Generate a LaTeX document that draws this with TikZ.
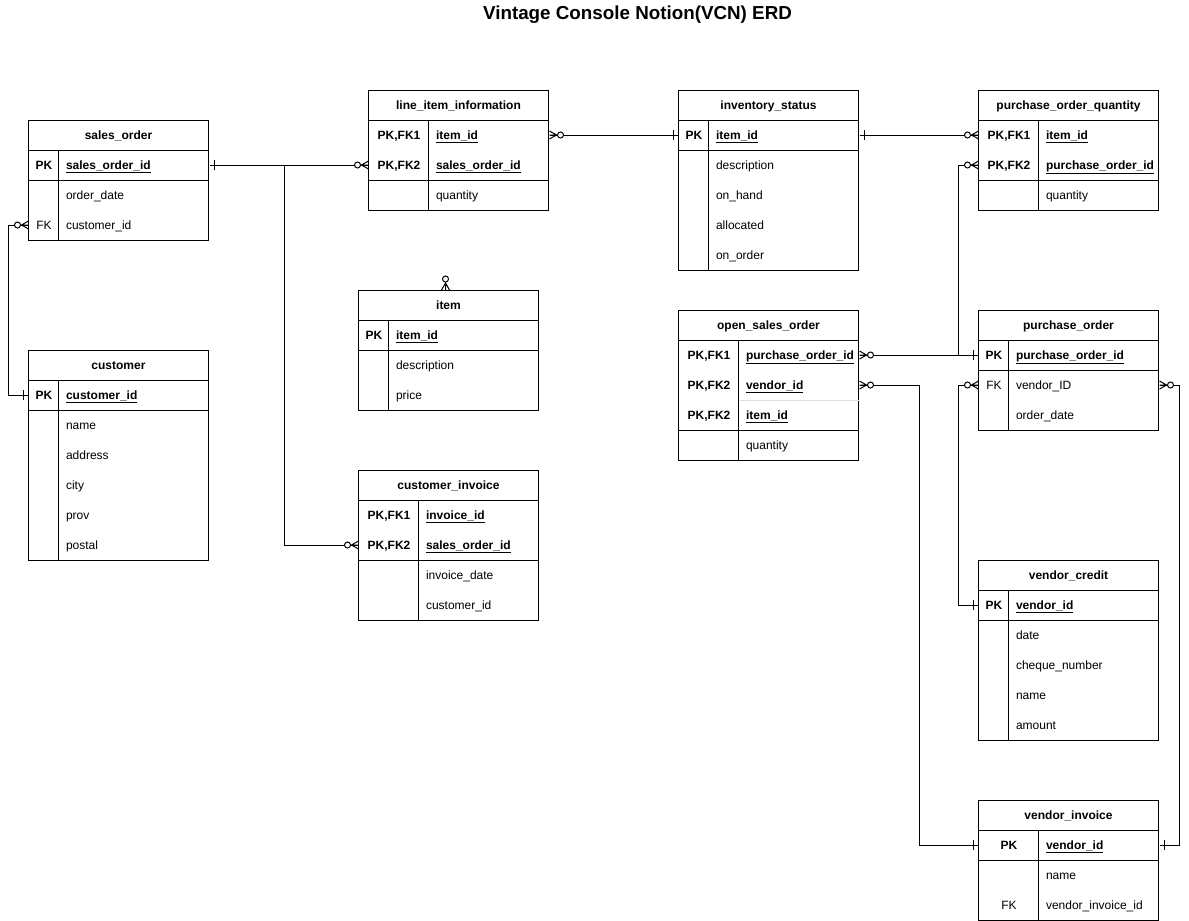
\documentclass[tikz,border=0pt]{standalone}
\usepackage{fontspec}
\setmainfont{Liberation Sans}

\tikzset{
  onemark/.pic={\draw (0,0) -- (8,0); \draw (5,-5) -- (5,5);},
  manymark/.pic={\draw (0,0) -- (12,0) (0,-4) -- (7,0) -- (0,4); \draw[fill=white] (11,0) circle (3);}
}

\begin{document}
\fontsize{12pt}{14pt}\selectfont
\begin{tikzpicture}[x=1pt, y=-1pt, line width=1pt,
    hdr/.style={font=\bfseries, inner sep=0pt, text height=10pt, text depth=2pt},
    keyc/.style={minimum width=#1, minimum height=30pt, inner sep=0pt, anchor=west, font=\bfseries, text height=10pt, text depth=2pt},
    fldc/.style={text width=#1, inner sep=0pt, minimum height=30pt, text height=10pt, text depth=2pt, anchor=west, align=left, execute at begin node={\hspace*{7pt}}},
    pkc/.style={fldc=#1, font=\bfseries}]
        \useasboundingbox (0.5,0) rectangle (1189.5,921);

        % Title
        \node[font=\fontsize{18.8pt}{21pt}\selectfont\bfseries] (title) at (638,15) {Vintage Console Notion(VCN) ERD};

        % sales_order
        \draw (29,120) rectangle (209,240) (29,150) -- (209,150) (29,180) -- (209,180) (59,150) -- (59,240);
        \node[hdr] (so) at (119,135) {sales\_order};
        \node[keyc=30pt] (so-k1) at (29,165) {PK};
        \node[pkc=150pt] (so-f1) at (59,165) {\underline{sales\_order\_id}};
        \node[fldc=150pt] (so-f2) at (59,195) {order\_date};
        \node[keyc=30pt, font=\mdseries] (so-k3) at (29,225) {FK};
        \node[fldc=150pt] (so-f3) at (59,225) {customer\_id};

        % customer
        \draw (29,350) rectangle (209,560) (29,380) -- (209,380) (29,410) -- (209,410) (59,380) -- (59,560);
        \node[hdr] (cu) at (119,365) {customer};
        \node[keyc=30pt] (cu-k1) at (29,395) {PK};
        \node[pkc=150pt] (cu-f1) at (59,395) {\underline{customer\_id}};
        \foreach \t [count=\i from 2] in {name, address, city, prov, postal}
            \node[fldc=150pt] (cu-f\i) at (59,{365+30*\i}) {\t};

        % line_item_information
        \draw (369,90) rectangle (549,210) (369,120) -- (549,120) (369,180) -- (549,180) (429,120) -- (429,210);
        \node[hdr] (lii) at (459,105) {line\_item\_information};
        \node[keyc=60pt] (lii-k1) at (369,135) {PK,FK1};
        \node[pkc=120pt] (lii-f1) at (429,135) {\underline{item\_id}};
        \node[keyc=60pt] (lii-k2) at (369,165) {PK,FK2};
        \node[pkc=120pt] (lii-f2) at (429,165) {\underline{sales\_order\_id}};
        \node[fldc=120pt] (lii-f3) at (429,195) {quantity};

        % item
        \draw (359,290) rectangle (539,410) (359,320) -- (539,320) (359,350) -- (539,350) (389,320) -- (389,410);
        \node[hdr] (it) at (449,305) {item};
        \node[keyc=30pt] (it-k1) at (359,335) {PK};
        \node[pkc=150pt] (it-f1) at (389,335) {\underline{item\_id}};
        \node[fldc=150pt] (it-f2) at (389,365) {description};
        \node[fldc=150pt] (it-f3) at (389,395) {price};
        \coordinate (it-top) at (446,290);

        % customer_invoice
        \draw (359,470) rectangle (539,620) (359,500) -- (539,500) (359,560) -- (539,560) (419,500) -- (419,620);
        \node[hdr] (ci) at (449,485) {customer\_invoice};
        \node[keyc=60pt] (ci-k1) at (359,515) {PK,FK1};
        \node[pkc=120pt] (ci-f1) at (419,515) {\underline{invoice\_id}};
        \node[keyc=60pt] (ci-k2) at (359,545) {PK,FK2};
        \node[pkc=120pt] (ci-f2) at (419,545) {\underline{sales\_order\_id}};
        \node[fldc=120pt] (ci-f3) at (419,575) {invoice\_date};
        \node[fldc=120pt] (ci-f4) at (419,605) {customer\_id};

        % inventory_status
        \draw (679,90) rectangle (859,270) (679,120) -- (859,120) (679,150) -- (859,150) (709,120) -- (709,270);
        \node[hdr] (is) at (769,105) {inventory\_status};
        \node[keyc=30pt] (is-k1) at (679,135) {PK};
        \node[pkc=150pt] (is-f1) at (709,135) {\underline{item\_id}};
        \foreach \t [count=\i from 2] in {description, on\_hand, allocated, on\_order}
            \node[fldc=150pt] (is-f\i) at (709,{105+30*\i}) {\t};

        % open_sales_order
        \draw (679,310) rectangle (859,460) (679,340) -- (859,340) (679,430) -- (859,430) (739,340) -- (739,460);
        \draw[black!12] (739,400) -- (859,400);
        \node[hdr] (os) at (769,325) {open\_sales\_order};
        \node[keyc=60pt] (os-k1) at (679,355) {PK,FK1};
        \node[pkc=120pt] (os-f1) at (739,355) {\underline{purchase\_order\_id}};
        \node[keyc=60pt] (os-k2) at (679,385) {PK,FK2};
        \node[pkc=120pt] (os-f2) at (739,385) {\underline{vendor\_id}};
        \node[keyc=60pt] (os-k3) at (679,415) {PK,FK2};
        \node[pkc=120pt] (os-f3) at (739,415) {\underline{item\_id}};
        \node[fldc=120pt] (os-f4) at (739,445) {quantity};

        % purchase_order_quantity
        \draw (979,90) rectangle (1159,210) (979,120) -- (1159,120) (979,180) -- (1159,180) (1039,120) -- (1039,210);
        \node[hdr] (pq) at (1069,105) {purchase\_order\_quantity};
        \node[keyc=60pt] (pq-k1) at (979,135) {PK,FK1};
        \node[pkc=120pt] (pq-f1) at (1039,135) {\underline{item\_id}};
        \node[keyc=60pt] (pq-k2) at (979,165) {PK,FK2};
        \node[pkc=120pt] (pq-f2) at (1039,165) {\underline{purchase\_order\_id}};
        \node[fldc=120pt] (pq-f3) at (1039,195) {quantity};

        % purchase_order
        \draw (979,310) rectangle (1159,430) (979,340) -- (1159,340) (979,370) -- (1159,370) (1009,340) -- (1009,430);
        \node[hdr] (po) at (1069,325) {purchase\_order};
        \node[keyc=30pt] (po-k1) at (979,355) {PK};
        \node[pkc=150pt] (po-f1) at (1009,355) {\underline{purchase\_order\_id}};
        \node[keyc=30pt, font=\mdseries] (po-k2) at (979,385) {FK};
        \node[fldc=150pt] (po-f2) at (1009,385) {vendor\_ID};
        \node[fldc=150pt] (po-f3) at (1009,415) {order\_date};

        % vendor_credit
        \draw (979,560) rectangle (1159,740) (979,590) -- (1159,590) (979,620) -- (1159,620) (1009,590) -- (1009,740);
        \node[hdr] (vc) at (1069,575) {vendor\_credit};
        \node[keyc=30pt] (vc-k1) at (979,605) {PK};
        \node[pkc=150pt] (vc-f1) at (1009,605) {\underline{vendor\_id}};
        \foreach \t [count=\i from 2] in {date, cheque\_number, name, amount}
            \node[fldc=150pt] (vc-f\i) at (1009,{575+30*\i}) {\t};

        % vendor_invoice
        \draw (979,800) rectangle (1159,920) (979,830) -- (1159,830) (979,860) -- (1159,860) (1039,830) -- (1039,920);
        \node[hdr] (vi) at (1069,815) {vendor\_invoice};
        \node[keyc=60pt] (vi-k1) at (979,845) {PK};
        \node[pkc=120pt] (vi-f1) at (1039,845) {\underline{vendor\_id}};
        \node[fldc=120pt] (vi-f2) at (1039,875) {name};
        \node[keyc=60pt, font=\mdseries] (vi-k3) at (979,905) {FK};
        \node[fldc=120pt] (vi-f3) at (1039,905) {vendor\_invoice\_id};

        % Relationships
        \draw (so-f1.east) -- (lii-k2.west);
        \draw (so-f1.east) ++(75,0) |- (ci-k2.west);
        \draw (cu-k1.west) -- ++(-20,0) |- (so-k3.west);
        \draw (lii-f1.east) -- (is-k1.west);
        \draw (is-f1.east) -- (pq-k1.west);
        \draw (os-f1.east) -- (po-k1.west);
        \draw (pq-k2.west) -- ++(-20,0) |- (po-k1.west);
        \draw (os-f2.east) -- ++(60,0) |- (vi-k1.west);
        \draw (po-k2.west) -- ++(-20,0) |- (vc-k1.west);
        \draw (po-f2.east) -- ++(20,0) |- (vi-f1.east);

        % Cardinality marks
        \pic at (so-f1.east) {onemark};
        \pic[rotate=180] at (lii-k2.west) {manymark};
        \pic[rotate=180] at (ci-k2.west) {manymark};
        \pic[rotate=180] at (cu-k1.west) {onemark};
        \pic[rotate=180] at (so-k3.west) {manymark};
        \pic at (lii-f1.east) {manymark};
        \pic[rotate=180] at (is-k1.west) {onemark};
        \pic at (is-f1.east) {onemark};
        \pic[rotate=180] at (pq-k1.west) {manymark};
        \pic[rotate=180] at (pq-k2.west) {manymark};
        \pic at (os-f1.east) {manymark};
        \pic[rotate=180] at (po-k1.west) {onemark};
        \pic at (os-f2.east) {manymark};
        \pic[rotate=180] at (vi-k1.west) {onemark};
        \pic[rotate=180] at (po-k2.west) {manymark};
        \pic[rotate=180] at (vc-k1.west) {onemark};
        \pic at (po-f2.east) {manymark};
        \pic at (vi-f1.east) {onemark};
        \pic[rotate=90] at (it-top) {manymark};
    \end{tikzpicture}
\end{document}
